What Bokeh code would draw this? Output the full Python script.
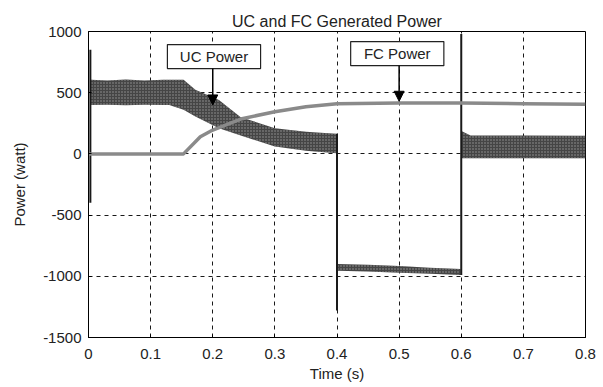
from bokeh.plotting import figure
from bokeh.models import FixedTicker, Arrow, NormalHead, Range1d
from bokeh.embed import file_html
from bokeh.resources import INLINE
from bokeh.core.properties import value

# ---- data ----
# UC power: noisy band (upper / lower envelope) in three segments
uc1_t = [0.004, 0.03, 0.06, 0.09, 0.12, 0.13, 0.153, 0.172, 0.21, 0.245, 0.3, 0.35, 0.399]
uc1_hi = [605, 600, 608, 600, 605, 605, 605, 525, 440, 300, 210, 180, 165]
uc1_lo = [400, 402, 398, 402, 400, 400, 360, 305, 210, 150, 60, 25, 5]

uc2_t = [0.401, 0.45, 0.5, 0.55, 0.599]
uc2_hi = [-900, -905, -915, -930, -940]
uc2_lo = [-955, -960, -970, -980, -990]

uc3_t = [0.601, 0.615, 0.7, 0.8]
uc3_hi = [185, 150, 150, 148]
uc3_lo = [-35, -35, -35, -35]

# switching spikes of the UC power
spike_t = [0.003, 0.4, 0.6]
spike_lo = [-400, -1280, -990]
spike_hi = [850, 165, 980]

# FC power
fc_t = [0.0, 0.153, 0.18, 0.2, 0.245, 0.3, 0.35, 0.4, 0.5, 0.6, 0.7, 0.8]
fc_p = [0, 0, 140, 195, 285, 345, 385, 410, 415, 415, 410, 405]

x_ticks = [0, 0.1, 0.2, 0.3, 0.4, 0.5, 0.6, 0.7, 0.8]
x_tick_labels = ["0", "0.1", "0.2", "0.3", "0.4", "0.5", "0.6", "0.7", "0.8"]
y_ticks = [-1500, -1000, -500, 0, 500, 1000]
y_tick_labels = ["-1500", "-1000", "-500", "0", "500", "1000"]

# annotations: (label, box left, box right, box bottom, box top, arrow x, arrow tip y)
notes = [
    ("UC Power", 0.127, 0.277, 697, 893, 0.2, 400),
    ("FC Power", 0.422, 0.572, 721, 918, 0.5, 430),
]

FONT = "Liberation Sans"
TXT = "#222222"

p = figure(
    frame_width=497, frame_height=306,
    min_border_left=88, min_border_right=12, min_border_top=31, min_border_bottom=46,
    x_range=Range1d(0, 0.8), y_range=Range1d(-1500, 1000),
    title="UC and FC Generated Power",
    output_backend="svg", toolbar_location=None,
)
p.title.text_font = FONT
p.title.text_font_size = "16px"
p.title.text_font_style = "normal"
p.title.align = "center"
p.title.text_color = TXT
p.title.offset = 0
p.title.standoff = 4

p.outline_line_color = "black"
p.outline_line_alpha = 1

p.xaxis.ticker = FixedTicker(ticks=x_ticks)
p.xaxis.major_label_overrides = {t: l for t, l in zip(x_ticks, x_tick_labels)}
p.yaxis.ticker = FixedTicker(ticks=y_ticks)
p.yaxis.major_label_overrides = {t: l for t, l in zip(y_ticks, y_tick_labels)}
p.xaxis.axis_label = "Time (s)"
p.yaxis.axis_label = "Power (watt)"
for ax in (p.xaxis, p.yaxis):
    ax.axis_label_text_font = FONT
    ax.axis_label_text_font_size = "15px"
    ax.axis_label_text_font_style = "normal"
    ax.axis_label_text_color = TXT
    ax.major_label_text_font = FONT
    ax.major_label_text_font_size = "15px"
    ax.major_label_text_color = TXT
    ax.minor_tick_line_color = None
    ax.major_tick_in = 3
    ax.major_tick_out = 0
    ax.axis_line_color = "black"
p.xaxis.axis_label_standoff = 3
p.yaxis.axis_label_standoff = 12
p.xaxis.major_label_standoff = 11
p.yaxis.major_label_standoff = 7

p.grid.grid_line_color = "black"
p.grid.grid_line_dash = "4 4"
p.grid.grid_line_width = 1
p.grid.grid_line_alpha = 0.9

band = dict(fill_color="#454545", hatch_pattern="dot", hatch_color="#9a9a9a",
            hatch_scale=3, hatch_weight=1)
p.varea(x=uc1_t, y1=uc1_lo, y2=uc1_hi, **band)
p.varea(x=uc2_t, y1=uc2_lo, y2=uc2_hi, **band)
p.varea(x=uc3_t, y1=uc3_lo, y2=uc3_hi, **band)
p.segment(x0=spike_t, y0=spike_lo, x1=spike_t, y1=spike_hi, line_color="#1a1a1a", line_width=2)

p.line(fc_t, fc_p, line_color="#8a8a8a", line_width=3.5)

for label, l, r, b, t, ax_x, tip in notes:
    p.quad(left=[l], right=[r], bottom=[b], top=[t], fill_color="white",
           line_color=TXT, line_width=1.2)
    p.text(x=[(l + r) / 2], y=[(b + t) / 2], text=[label], text_align="center",
           text_baseline="middle", text_font=value(FONT), text_font_size="15px",
           text_color=TXT)
    p.add_layout(Arrow(end=NormalHead(size=10, fill_color="black", line_color="black"),
                       x_start=ax_x, y_start=b, x_end=ax_x, y_end=tip,
                       line_color="black", line_width=1.5))

open("out.html", "w").write(file_html(p, INLINE))
